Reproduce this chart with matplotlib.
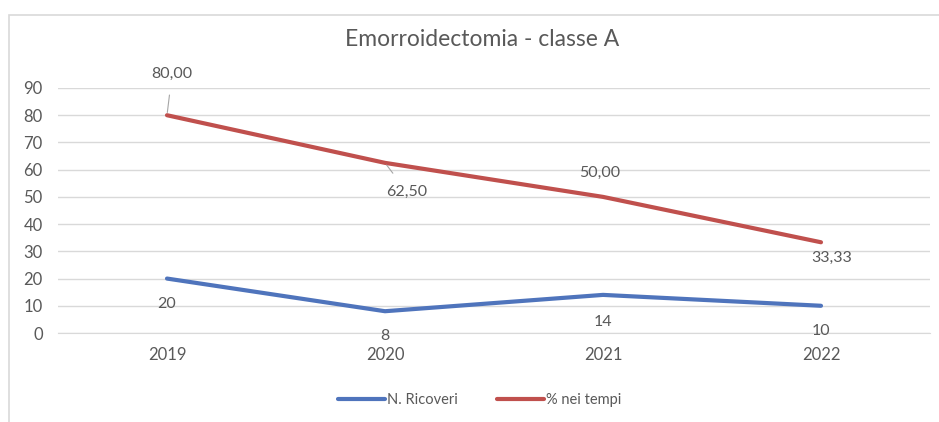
import matplotlib
matplotlib.use("Agg")
import matplotlib.pyplot as plt
from matplotlib.patches import Rectangle

plt.rcParams['font.family'] = ['Lato', 'DejaVu Sans']

# data
anni = ["2019", "2020", "2021", "2022"]
ricoveri = [20, 8, 14, 10]
perc_tempi = [80.00, 62.50, 50.00, 33.33]

# label offsets in pixels (where excel put the data labels)
off_ric = [(0, -25), (0, -25), (0, -27), (0, -25)]
off_perc = [(5, 41), (22, -29), (-3, 24), (11, -16)]
leader = [True, True, False, False]

blu = '#4F74BC'
rosso = '#C0504D'
grigio = '#595959'

W, H = 939, 422
fig = plt.figure(figsize=(W / 100, H / 100), dpi=100)

# chart border like excel
fig.patches.append(Rectangle((9 / W, -0.1), 1.2, 1.1 - 15 / H, transform=fig.transFigure,
                             fill=False, edgecolor='#D9D9D9', lw=1.2))

ax = fig.add_axes([58 / W, 1 - 333 / H, (930 - 58) / W, (333 - 88) / H])
x = list(range(len(anni)))

ax.plot(x, ricoveri, color=blu, lw=3, solid_capstyle='round', label='N. Ricoveri', zorder=3)
ax.plot(x, perc_tempi, color=rosso, lw=3, solid_capstyle='round', label='% nei tempi', zorder=3)

for i, v in enumerate(ricoveri):
    ax.annotate(str(v), (x[i], v), xytext=off_ric[i], textcoords='offset pixels',
                ha='center', va='center', fontsize=11.5, color=grigio)

for i, v in enumerate(perc_tempi):
    testo = f"{v:.2f}".replace('.', ',')
    ap = None
    if leader[i]:
        ap = dict(arrowstyle='-', color='#A6A6A6', lw=0.8, shrinkA=8, shrinkB=2)
    ax.annotate(testo, (x[i], v), xytext=off_perc[i], textcoords='offset pixels',
                ha='center', va='center', fontsize=11.5, color=grigio, arrowprops=ap,
                annotation_clip=False)

ax.set_xlim(-0.5, 3.5)
ax.set_ylim(0, 90)
ax.set_yticks(range(0, 100, 10))
ax.set_xticks(x)
ax.set_xticklabels(anni)
ax.grid(axis='y', color='#D9D9D9', lw=1)
ax.set_axisbelow(True)
for s in ax.spines.values():
    s.set_visible(False)
ax.spines['bottom'].set_visible(True)
ax.spines['bottom'].set_color('#D9D9D9')
ax.tick_params(length=0, colors=grigio, labelsize=12)
ax.tick_params(axis='x', pad=10)
ax.tick_params(axis='y', pad=11)

fig.text(482 / W, 1 - 40 / H, "Emorroidectomia - classe A", ha='center', va='center',
         fontsize=16.5, color=grigio)

fig.legend(loc='center', bbox_to_anchor=(480 / W, 1 - 400 / H), ncol=2, frameon=False,
           fontsize=10.5, labelcolor=grigio, handlelength=3.2, handletextpad=0.15,
           columnspacing=2.7)

fig.savefig('out.png', dpi=100)
